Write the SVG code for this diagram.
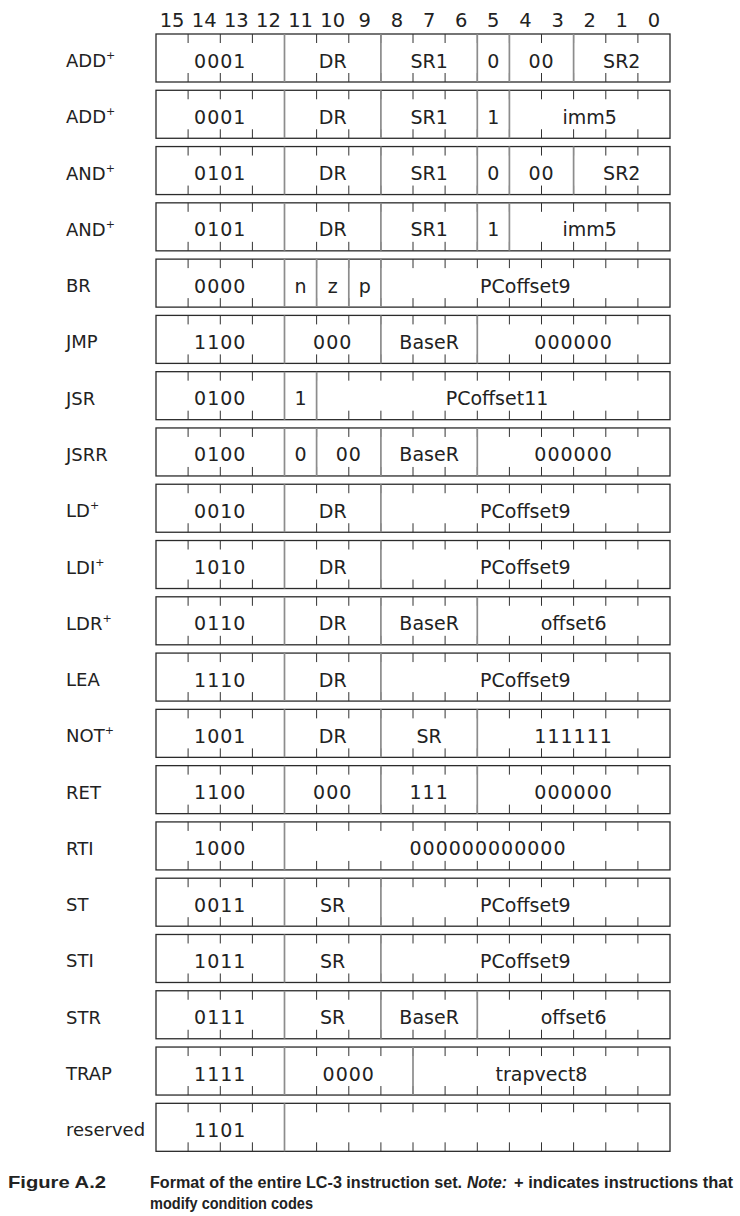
<svg xmlns="http://www.w3.org/2000/svg" xmlns:xlink="http://www.w3.org/1999/xlink" width="740" height="1216" viewBox="0 0 740 1216">
  <style>
    .box { fill: #fff; stroke: #2b2b2b; stroke-width: 1.3; }
    .div { stroke: #8c8c8c; stroke-width: 1.7; }
    .tick { stroke: #333; stroke-width: 1; fill: none; }
    .f { font-family: "DejaVu Sans", sans-serif; font-size: 19px; fill: #222; text-anchor: middle; }
    .n { letter-spacing: 1px; }
    .lbl { font-family: "DejaVu Sans", sans-serif; font-size: 18px; fill: #222; }
    .sup { font-size: 11px; }
    .hdr { font-family: "DejaVu Sans", sans-serif; font-size: 19.5px; fill: #222; text-anchor: middle; }
    .cap { font-family: "Liberation Sans", Arial, sans-serif; font-size: 16px; font-weight: bold; fill: #222; }
  </style>
  <defs>
    <!-- tick marks at every interior bit boundary, row-local coordinates (row height 48) -->
    <path id="ticks" class="tick" d="M188.1 0v9M220.3 0v9M252.4 0v9M284.5 0v9M316.6 0v9M348.8 0v9M380.9 0v9M413 0v9M445.1 0v9M477.3 0v9M509.4 0v9M541.5 0v9M573.6 0v9M605.8 0v9M637.9 0v9M188.1 39v9M220.3 39v9M252.4 39v9M284.5 39v9M316.6 39v9M348.8 39v9M380.9 39v9M413 39v9M445.1 39v9M477.3 39v9M509.4 39v9M541.5 39v9M573.6 39v9M605.8 39v9M637.9 39v9"/>
    <rect id="frame" class="box" x="156" y="0" width="514" height="48"/>
  </defs>

  <!-- bit numbers -->
  <g id="bit-header" class="hdr">
    <text x="172.1" y="26.5">15</text>
    <text x="204.2" y="26.5">14</text>
    <text x="236.3" y="26.5">13</text>
    <text x="268.4" y="26.5">12</text>
    <text x="300.6" y="26.5">11</text>
    <text x="332.7" y="26.5">10</text>
    <text x="364.8" y="26.5">9</text>
    <text x="396.9" y="26.5">8</text>
    <text x="429.1" y="26.5">7</text>
    <text x="461.2" y="26.5">6</text>
    <text x="493.3" y="26.5">5</text>
    <text x="525.4" y="26.5">4</text>
    <text x="557.6" y="26.5">3</text>
    <text x="589.7" y="26.5">2</text>
    <text x="621.8" y="26.5">1</text>
    <text x="653.9" y="26.5">0</text>
  </g>

  <g id="add-reg" transform="translate(0,34)">
    <use href="#frame"/><use href="#ticks"/>
    <path class="div" d="M284.5 0v48M380.9 0v48M477.3 0v48M509.4 0v48M573.6 0v48"/>
    <text class="lbl" x="66" y="33">ADD<tspan class="sup" dy="-8">+</tspan></text>
    <text class="f n" x="220.3" y="33.5">0001</text>
    <text class="f" x="332.7" y="33.5">DR</text>
    <text class="f" x="429.1" y="33.5">SR1</text>
    <text class="f" x="493.3" y="33.5">0</text>
    <text class="f n" x="541.5" y="33.5">00</text>
    <text class="f" x="621.8" y="33.5">SR2</text>
  </g>

  <g id="add-imm" transform="translate(0,90.28)">
    <use href="#frame"/><use href="#ticks"/>
    <path class="div" d="M284.5 0v48M380.9 0v48M477.3 0v48M509.4 0v48"/>
    <text class="lbl" x="66" y="33">ADD<tspan class="sup" dy="-8">+</tspan></text>
    <text class="f n" x="220.3" y="33.5">0001</text>
    <text class="f" x="332.7" y="33.5">DR</text>
    <text class="f" x="429.1" y="33.5">SR1</text>
    <text class="f" x="493.3" y="33.5">1</text>
    <text class="f" x="589.7" y="33.5">imm5</text>
  </g>

  <g id="and-reg" transform="translate(0,146.56)">
    <use href="#frame"/><use href="#ticks"/>
    <path class="div" d="M284.5 0v48M380.9 0v48M477.3 0v48M509.4 0v48M573.6 0v48"/>
    <text class="lbl" x="66" y="33">AND<tspan class="sup" dy="-8">+</tspan></text>
    <text class="f n" x="220.3" y="33.5">0101</text>
    <text class="f" x="332.7" y="33.5">DR</text>
    <text class="f" x="429.1" y="33.5">SR1</text>
    <text class="f" x="493.3" y="33.5">0</text>
    <text class="f n" x="541.5" y="33.5">00</text>
    <text class="f" x="621.8" y="33.5">SR2</text>
  </g>

  <g id="and-imm" transform="translate(0,202.84)">
    <use href="#frame"/><use href="#ticks"/>
    <path class="div" d="M284.5 0v48M380.9 0v48M477.3 0v48M509.4 0v48"/>
    <text class="lbl" x="66" y="33">AND<tspan class="sup" dy="-8">+</tspan></text>
    <text class="f n" x="220.3" y="33.5">0101</text>
    <text class="f" x="332.7" y="33.5">DR</text>
    <text class="f" x="429.1" y="33.5">SR1</text>
    <text class="f" x="493.3" y="33.5">1</text>
    <text class="f" x="589.7" y="33.5">imm5</text>
  </g>

  <g id="br" transform="translate(0,259.12)">
    <use href="#frame"/><use href="#ticks"/>
    <path class="div" d="M284.5 0v48M316.6 0v48M348.8 0v48M380.9 0v48"/>
    <text class="lbl" x="66" y="33">BR</text>
    <text class="f n" x="220.3" y="33.5">0000</text>
    <text class="f" x="300.6" y="33.5">n</text>
    <text class="f" x="332.7" y="33.5">z</text>
    <text class="f" x="364.8" y="33.5">p</text>
    <text class="f" x="525.4" y="33.5">PCoffset9</text>
  </g>

  <g id="jmp" transform="translate(0,315.4)">
    <use href="#frame"/><use href="#ticks"/>
    <path class="div" d="M284.5 0v48M380.9 0v48M477.3 0v48"/>
    <text class="lbl" x="66" y="33">JMP</text>
    <text class="f n" x="220.3" y="33.5">1100</text>
    <text class="f n" x="332.7" y="33.5">000</text>
    <text class="f" x="429.1" y="33.5">BaseR</text>
    <text class="f n" x="573.6" y="33.5">000000</text>
  </g>

  <g id="jsr" transform="translate(0,371.68)">
    <use href="#frame"/><use href="#ticks"/>
    <path class="div" d="M284.5 0v48M316.6 0v48"/>
    <text class="lbl" x="66" y="33">JSR</text>
    <text class="f n" x="220.3" y="33.5">0100</text>
    <text class="f" x="300.6" y="33.5">1</text>
    <text class="f" x="497" y="33.5">PCoffset11</text>
  </g>

  <g id="jsrr" transform="translate(0,427.96)">
    <use href="#frame"/><use href="#ticks"/>
    <path class="div" d="M284.5 0v48M316.6 0v48M380.9 0v48M477.3 0v48"/>
    <text class="lbl" x="66" y="33">JSRR</text>
    <text class="f n" x="220.3" y="33.5">0100</text>
    <text class="f" x="300.6" y="33.5">0</text>
    <text class="f n" x="348.8" y="33.5">00</text>
    <text class="f" x="429.1" y="33.5">BaseR</text>
    <text class="f n" x="573.6" y="33.5">000000</text>
  </g>

  <g id="ld" transform="translate(0,484.24)">
    <use href="#frame"/><use href="#ticks"/>
    <path class="div" d="M284.5 0v48M380.9 0v48"/>
    <text class="lbl" x="66" y="33">LD<tspan class="sup" dy="-8">+</tspan></text>
    <text class="f n" x="220.3" y="33.5">0010</text>
    <text class="f" x="332.7" y="33.5">DR</text>
    <text class="f" x="525.4" y="33.5">PCoffset9</text>
  </g>

  <g id="ldi" transform="translate(0,540.52)">
    <use href="#frame"/><use href="#ticks"/>
    <path class="div" d="M284.5 0v48M380.9 0v48"/>
    <text class="lbl" x="66" y="33">LDI<tspan class="sup" dy="-8">+</tspan></text>
    <text class="f n" x="220.3" y="33.5">1010</text>
    <text class="f" x="332.7" y="33.5">DR</text>
    <text class="f" x="525.4" y="33.5">PCoffset9</text>
  </g>

  <g id="ldr" transform="translate(0,596.8)">
    <use href="#frame"/><use href="#ticks"/>
    <path class="div" d="M284.5 0v48M380.9 0v48M477.3 0v48"/>
    <text class="lbl" x="66" y="33">LDR<tspan class="sup" dy="-8">+</tspan></text>
    <text class="f n" x="220.3" y="33.5">0110</text>
    <text class="f" x="332.7" y="33.5">DR</text>
    <text class="f" x="429.1" y="33.5">BaseR</text>
    <text class="f" x="573.6" y="33.5">offset6</text>
  </g>

  <g id="lea" transform="translate(0,653.08)">
    <use href="#frame"/><use href="#ticks"/>
    <path class="div" d="M284.5 0v48M380.9 0v48"/>
    <text class="lbl" x="66" y="33">LEA</text>
    <text class="f n" x="220.3" y="33.5">1110</text>
    <text class="f" x="332.7" y="33.5">DR</text>
    <text class="f" x="525.4" y="33.5">PCoffset9</text>
  </g>

  <g id="not" transform="translate(0,709.36)">
    <use href="#frame"/><use href="#ticks"/>
    <path class="div" d="M284.5 0v48M380.9 0v48M477.3 0v48"/>
    <text class="lbl" x="66" y="33">NOT<tspan class="sup" dy="-8">+</tspan></text>
    <text class="f n" x="220.3" y="33.5">1001</text>
    <text class="f" x="332.7" y="33.5">DR</text>
    <text class="f" x="429.1" y="33.5">SR</text>
    <text class="f n" x="573.6" y="33.5">111111</text>
  </g>

  <g id="ret" transform="translate(0,765.64)">
    <use href="#frame"/><use href="#ticks"/>
    <path class="div" d="M284.5 0v48M380.9 0v48M477.3 0v48"/>
    <text class="lbl" x="66" y="33">RET</text>
    <text class="f n" x="220.3" y="33.5">1100</text>
    <text class="f n" x="332.7" y="33.5">000</text>
    <text class="f n" x="429.1" y="33.5">111</text>
    <text class="f n" x="573.6" y="33.5">000000</text>
  </g>

  <g id="rti" transform="translate(0,821.92)">
    <use href="#frame"/><use href="#ticks"/>
    <path class="div" d="M284.5 0v48"/>
    <text class="lbl" x="66" y="33">RTI</text>
    <text class="f n" x="220.3" y="33.5">1000</text>
    <text class="f n" x="488" y="33.5">000000000000</text>
  </g>

  <g id="st" transform="translate(0,878.2)">
    <use href="#frame"/><use href="#ticks"/>
    <path class="div" d="M284.5 0v48M380.9 0v48"/>
    <text class="lbl" x="66" y="33">ST</text>
    <text class="f n" x="220.3" y="33.5">0011</text>
    <text class="f" x="332.7" y="33.5">SR</text>
    <text class="f" x="525.4" y="33.5">PCoffset9</text>
  </g>

  <g id="sti" transform="translate(0,934.48)">
    <use href="#frame"/><use href="#ticks"/>
    <path class="div" d="M284.5 0v48M380.9 0v48"/>
    <text class="lbl" x="66" y="33">STI</text>
    <text class="f n" x="220.3" y="33.5">1011</text>
    <text class="f" x="332.7" y="33.5">SR</text>
    <text class="f" x="525.4" y="33.5">PCoffset9</text>
  </g>

  <g id="str" transform="translate(0,990.76)">
    <use href="#frame"/><use href="#ticks"/>
    <path class="div" d="M284.5 0v48M380.9 0v48M477.3 0v48"/>
    <text class="lbl" x="66" y="33">STR</text>
    <text class="f n" x="220.3" y="33.5">0111</text>
    <text class="f" x="332.7" y="33.5">SR</text>
    <text class="f" x="429.1" y="33.5">BaseR</text>
    <text class="f" x="573.6" y="33.5">offset6</text>
  </g>

  <g id="trap" transform="translate(0,1047.04)">
    <use href="#frame"/><use href="#ticks"/>
    <path class="div" d="M284.5 0v48M413 0v48"/>
    <text class="lbl" x="66" y="33">TRAP</text>
    <text class="f n" x="220.3" y="33.5">1111</text>
    <text class="f n" x="348.8" y="33.5">0000</text>
    <text class="f" x="541.5" y="33.5">trapvect8</text>
  </g>

  <g id="reserved" transform="translate(0,1103.32)">
    <use href="#frame"/><use href="#ticks"/>
    <path class="div" d="M284.5 0v48"/>
    <text class="lbl" x="66" y="33">reserved</text>
    <text class="f n" x="220.3" y="33.5">1101</text>
  </g>

  <!-- caption -->
  <g id="caption" class="cap">
    <text x="8" y="1188" font-size="17" textLength="98" lengthAdjust="spacingAndGlyphs">Figure A.2</text>
    <text x="150" y="1188" textLength="312" lengthAdjust="spacingAndGlyphs">Format of the entire LC-3 instruction set.</text>
    <text x="467" y="1188" textLength="40" lengthAdjust="spacingAndGlyphs" font-style="italic">Note:</text>
    <text x="514" y="1188" textLength="219" lengthAdjust="spacingAndGlyphs">+ indicates instructions that</text>
    <text x="150" y="1209" textLength="163" lengthAdjust="spacingAndGlyphs">modify condition codes</text>
  </g>
</svg>
